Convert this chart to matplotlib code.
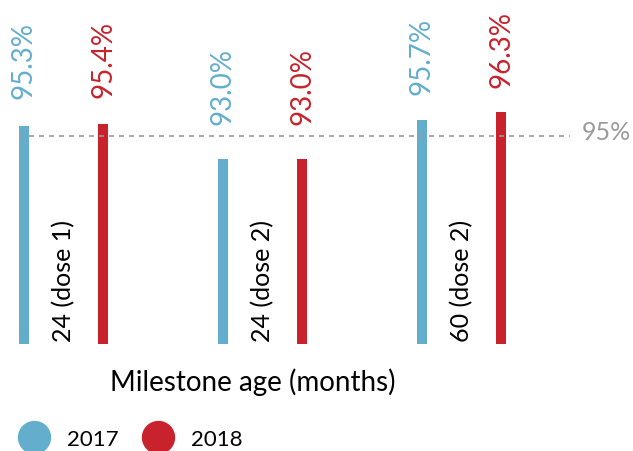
import numpy as np
import matplotlib
matplotlib.use("Agg")
import matplotlib.pyplot as plt
from matplotlib.lines import Line2D

plt.rcParams['font.family'] = ['Lato', 'DejaVu Sans']

# dados
categorias = ['24 (dose 1)', '24 (dose 2)', '60 (dose 2)']
valores_2017 = [95.3, 93.0, 95.7]
valores_2018 = [95.4, 93.0, 96.3]
meta = 95

azul = '#63aecd'
vermelho = '#c8232c'
cinza = '#9a9a9a'

fig = plt.figure(figsize=(6.33, 4.52), dpi=100)
ax = fig.add_axes([0, 107 / 452, 1, 345 / 452])

x = np.arange(len(categorias))
larg = 0.05
desl = 0.2

ax.bar(x - desl, valores_2017, width=larg, color=azul)
ax.bar(x + desl, valores_2018, width=larg, color=vermelho)

ax.set_xlim(-63.5 / 199, (633 - 63.5) / 199)
ax.set_ylim(80, 104.2)

# a linha e os rotulos usam outra escala (como no original)
ax2 = ax.twinx()
ax2.set_ylim(76.4, 107.2)

# linha da meta
ax2.plot([-desl - larg / 2, (570 - 63.5) / 199], [meta, meta], ls=(0, (3, 3)),
         color=cinza, lw=1.2)
ax2.annotate(f'{meta}%', ((582 - 63.5) / 199, meta), xytext=(0, 3),
             textcoords='offset points', color=cinza, fontsize=18,
             va='center', ha='left')

# rotulos dos valores
for xs, vals, cor in [(x - desl, valores_2017, azul), (x + desl, valores_2018, vermelho)]:
    for xi, v in zip(xs, vals):
        ax2.annotate(f'{v:.1f}%', (xi, v), xytext=(0, 24.5), textcoords='offset points',
                     rotation=90, ha='center', va='bottom', color=cor, fontsize=20)

# nomes das categorias
for xi, c in zip(x, categorias):
    ax.annotate(c, (xi, 80), xytext=(0, 2), textcoords='offset points',
                rotation=90, ha='center', va='bottom', color='black', fontsize=18)

ax.axis('off')
ax2.axis('off')

fig.text(253 / 633, 70 / 452, 'Milestone age (months)', ha='center', va='center',
         fontsize=20)

handles = [Line2D([], [], ls='none', marker='o', markersize=23, color=azul),
           Line2D([], [], ls='none', marker='o', markersize=23, color=vermelho)]
fig.legend(handles, ['2017', '2018'], loc='center left',
           bbox_to_anchor=(17 / 633, 12 / 452), ncol=2, frameon=False,
           fontsize=16, borderpad=0, borderaxespad=0, handlelength=1.5,
           handletextpad=0.75, columnspacing=1.0)

plt.savefig('out.png', dpi=100)
